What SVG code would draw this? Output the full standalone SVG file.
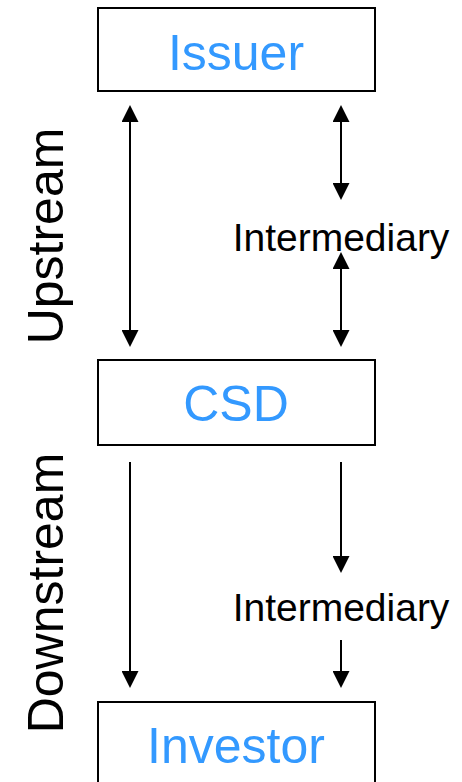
<svg xmlns="http://www.w3.org/2000/svg" width="462" height="782" viewBox="0 0 462 782">
  <style>
    .box { fill: #ffffff; stroke: #000000; stroke-width: 2; }
    .node-label { font-family: "Liberation Sans", Arial, sans-serif; font-size: 50px; fill: #3399FF; text-anchor: middle; }
    .label { font-family: "Liberation Sans", Arial, sans-serif; fill: #000000; text-anchor: middle; }
    .conn { stroke: #000000; stroke-width: 2; fill: none; }
  </style>
  <defs>
    <marker id="arrow" markerUnits="userSpaceOnUse" markerWidth="17" markerHeight="17" refX="0" refY="8.5" orient="auto-start-reverse" viewBox="0 0 17 17">
      <path d="M0,0 L17,8.5 L0,17 Z" fill="#000000"/>
    </marker>
  </defs>
  <rect width="462" height="782" fill="#ffffff"/>

  <g id="issuer">
    <rect class="box" x="98" y="8" width="277" height="83"/>
    <text class="node-label" x="236" y="70">Issuer</text>
  </g>
  <g id="csd">
    <rect class="box" x="98" y="360" width="277" height="85"/>
    <text class="node-label" x="236" y="421">CSD</text>
  </g>
  <g id="investor">
    <rect class="box" x="98" y="702" width="277" height="100"/>
    <text class="node-label" x="236" y="763">Investor</text>
  </g>
  <g id="intermediary-up">
    <text class="label" x="341" y="251" font-size="39">Intermediary</text>
  </g>
  <g id="intermediary-down">
    <text class="label" x="341" y="621" font-size="39">Intermediary</text>
  </g>
  <g id="side-labels">
    <text class="label" font-size="50" transform="translate(63,236) rotate(-90)">Upstream</text>
    <text class="label" font-size="50" transform="translate(63,593) rotate(-90)">Downstream</text>
  </g>

  <g id="connectors">
    <line class="conn" x1="130" y1="122" x2="130" y2="330" marker-start="url(#arrow)" marker-end="url(#arrow)"/>
    <line class="conn" x1="341" y1="122" x2="341" y2="183" marker-start="url(#arrow)" marker-end="url(#arrow)"/>
    <line class="conn" x1="341" y1="269" x2="341" y2="330" marker-start="url(#arrow)" marker-end="url(#arrow)"/>
    <line class="conn" x1="130" y1="462" x2="130" y2="671" marker-end="url(#arrow)"/>
    <line class="conn" x1="341" y1="462" x2="341" y2="556" marker-end="url(#arrow)"/>
    <line class="conn" x1="341" y1="640" x2="341" y2="671" marker-end="url(#arrow)"/>
  </g>
</svg>
